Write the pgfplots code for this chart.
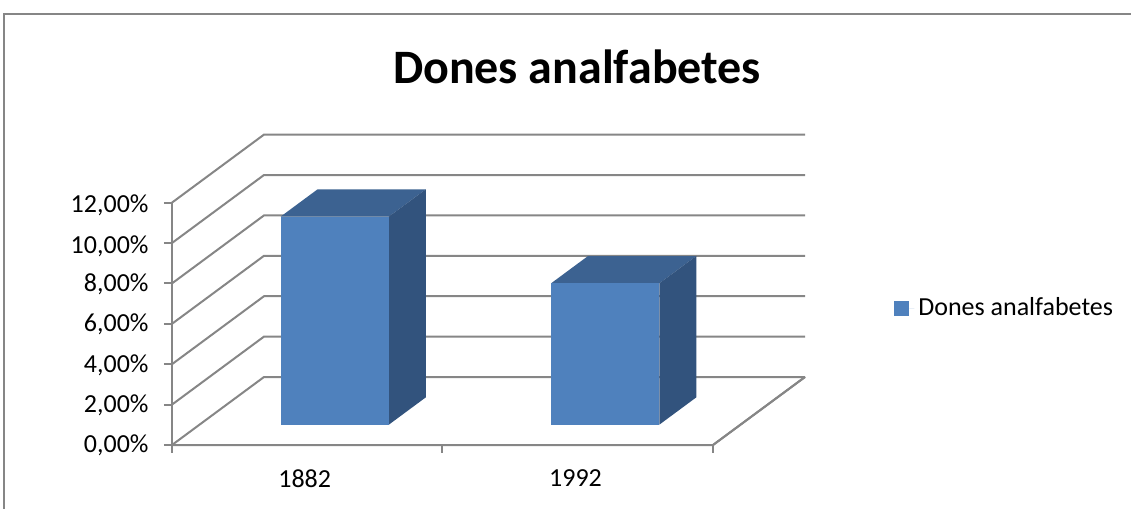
\documentclass[border=0pt]{standalone}
\usepackage{pgfplots}
\pgfplotsset{compat=1.18}
\usepackage{fontspec}
\setmainfont{Carlito}
\definecolor{barfront}{HTML}{4F81BD}
\definecolor{bartop}{HTML}{3C6291}
\definecolor{barside}{HTML}{32537D}
\definecolor{gridgray}{HTML}{868686}
\begin{document}
\begin{tikzpicture}[x=0.5pt,y=0.5pt]
\path[use as bounding box] (-172,-64) rectangle (959,445);
\draw[gridgray, line width=1pt] (-168,-70) -- (-168,431) -- (965,431);
\node[font=\fontsize{24}{28}\selectfont\bfseries, anchor=base, inner sep=0pt] at (405,361.7) {Dones analfabetes};
\begin{axis}[
  anchor=origin, at={(0,0)},
  x={(135.25pt,0pt)}, y={(46pt,34pt)}, z={(0pt,10.1pt)},
  xmin=0, xmax=2, ymin=0, ymax=1, zmin=0, zmax=12,
  clip=false,
  axis lines=left,
  axis line style={-, gridgray, line width=1pt},
  tick style={draw=none},
  tick align=outside,
  major tick length=4pt,
  xtick={0.5,1.5}, xticklabels={1882,1992},
  xticklabel style={xshift=6pt, yshift=-6.5pt},
  ytick=\empty,
  ztick={0,2,4,6,8,10,12},
  zticklabels={{0,00\%},{2,00\%},{4,00\%},{6,00\%},{8,00\%},{10,00\%},{12,00\%}},
  zticklabel style={xshift=-5pt, yshift=8.5pt},
  tick label style={font=\fontsize{13}{15}\selectfont},
  legend style={draw=none, fill=none, font=\fontsize{13}{15}\selectfont,
    at={(1.131,0.44)}, anchor=west},
  legend image code/.code={\fill[barfront] (0pt,-3.75pt) rectangle (7.5pt,3.75pt); \path (7.5pt,0pt) -- (10pt,0pt);},
]
% grid: left wall diagonals and back wall horizontals
\pgfplotsinvokeforeach{0,2,4,6,8,10,12}{
  \addplot3[gridgray, line width=1pt, forget plot] coordinates {(0,0,#1) (0,1,#1) (2,1,#1)};
  \addplot3[gridgray, line width=1pt, forget plot] coordinates {(-0.03,0,#1) (0,0,#1)};
}
\addplot3[gridgray, line width=1pt, forget plot] coordinates {(0,0,0) (2,0,0) (2,1,0)};
% x tick marks at category boundaries
\pgfplotsinvokeforeach{0,1,2}{
  \addplot3[gridgray, line width=1pt, forget plot] coordinates {(#1,0,0) (#1,0,-0.4)};
}
% bar 1882
\addplot3[fill=bartop, draw=none, forget plot] coordinates {(0.3,0.3,10.3) (0.7,0.3,10.3) (0.7,0.7,10.3) (0.3,0.7,10.3)};
\addplot3[fill=barside, draw=none, forget plot] coordinates {(0.7,0.3,0) (0.7,0.7,0) (0.7,0.7,10.3) (0.7,0.3,10.3)};
\addplot3[fill=barfront, draw=none] coordinates {(0.3,0.3,0) (0.7,0.3,0) (0.7,0.3,10.3) (0.3,0.3,10.3)};
\addlegendentry{Dones analfabetes}
% bar 1992
\addplot3[fill=bartop, draw=none, forget plot] coordinates {(1.3,0.3,7.0) (1.7,0.3,7.0) (1.7,0.7,7.0) (1.3,0.7,7.0)};
\addplot3[fill=barside, draw=none, forget plot] coordinates {(1.7,0.3,0) (1.7,0.7,0) (1.7,0.7,7.0) (1.7,0.3,7.0)};
\addplot3[fill=barfront, draw=none, forget plot] coordinates {(1.3,0.3,0) (1.7,0.3,0) (1.7,0.3,7.0) (1.3,0.3,7.0)};
\end{axis}
\end{tikzpicture}
\end{document}
